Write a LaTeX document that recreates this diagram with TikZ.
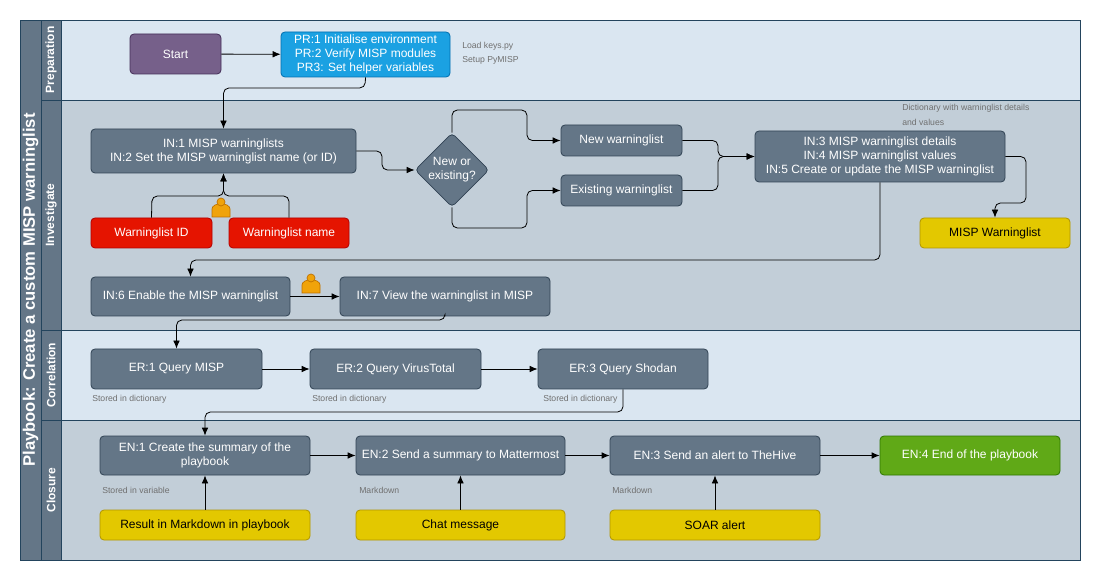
\documentclass[tikz,border=0pt]{standalone}
\usepackage{fontspec}
\setmainfont{Liberation Sans}
\usetikzlibrary{arrows.meta,shapes.geometric}
\definecolor{nodeg}{HTML}{647687}
\definecolor{nodegs}{HTML}{314354}
\definecolor{laneb}{HTML}{DAE6F1}
\definecolor{laneg}{HTML}{C2CED8}
\definecolor{lanebd}{HTML}{23445D}
\definecolor{hdr}{HTML}{647687}
\definecolor{redf}{HTML}{E51400}
\definecolor{reds}{HTML}{B20000}
\definecolor{yelf}{HTML}{E3C800}
\definecolor{yels}{HTML}{B09500}
\definecolor{grnf}{HTML}{60A917}
\definecolor{grns}{HTML}{2D7600}
\definecolor{purf}{HTML}{76608A}
\definecolor{purs}{HTML}{432D57}
\definecolor{bluf}{HTML}{1BA1E2}
\definecolor{blus}{HTML}{006EAF}
\definecolor{notec}{HTML}{707070}
\definecolor{persf}{HTML}{F0A30A}
\definecolor{perss}{HTML}{BD7000}
\newcommand\mybox[7]{\node[#2, minimum width={(#5-#3)*0.75pt}, minimum height={(#6-#4)*0.75pt}] (#1) at ({(#3+#5)/2},{(#4+#6)/2}) {#7};}
\newcommand\myperson[3]{%
  \fill[persf,draw=perss,line width=0.5pt] ({#2-9},{#3+10}) -- ({#2-9},{#3+2}) arc[start angle=180,end angle=0,x radius=6.75pt,y radius=4pt] -- ({#2+9},{#3+10}) -- cycle;
  \node[circle,fill=persf,draw=perss,line width=0.5pt,minimum size=6pt,inner sep=0] (#1) at (#2,{#3-5}) {};}
\begin{document}
\begin{tikzpicture}[x=0.75pt,y=-0.75pt,
  box/.style={rectangle,rounded corners=3pt,draw=nodegs,fill=nodeg,text=white,align=center,inner sep=1pt,font=\fontsize{9}{10.5}\selectfont,line width=0.6pt},
  red/.style={box,fill=redf,draw=reds},
  yel/.style={box,fill=yelf,draw=yels,text=black},
  grn/.style={box,fill=grnf,draw=grns},
  pur/.style={box,fill=purf,draw=purs},
  blu/.style={box,fill=bluf,draw=blus},
  note/.style={text=notec,font=\fontsize{6.5}{10.5}\selectfont,anchor=west,inner sep=0},
  conn/.style={-{Latex[length=6pt,width=5pt]},line width=0.6pt,rounded corners=4pt},
  lanelbl/.style={text=white,font=\bfseries\fontsize{9}{10}\selectfont,rotate=90}]
\useasboundingbox (0,0) rectangle (1101,581);
\fill[white] (0,0) rectangle (1101,581);
% lanes
\filldraw[fill=laneb,draw=lanebd] (61,20) rectangle (1080,100);
\filldraw[fill=laneg,draw=lanebd] (61,100) rectangle (1080,330);
\filldraw[fill=laneb,draw=lanebd] (61,330) rectangle (1080,420);
\filldraw[fill=laneg,draw=lanebd] (61,420) rectangle (1080,560);
\filldraw[fill=hdr,draw=lanebd] (20,20) rectangle (41,560);
\filldraw[fill=hdr,draw=lanebd] (41,20) rectangle (61,100);
\filldraw[fill=hdr,draw=lanebd] (41,100) rectangle (61,330);
\filldraw[fill=hdr,draw=lanebd] (41,330) rectangle (61,420);
\filldraw[fill=hdr,draw=lanebd] (41,420) rectangle (61,560);
\draw[lanebd] (20,20) rectangle (1080,560);
\node[text=white,font=\bfseries\fontsize{12.5}{14}\selectfont,rotate=90] (title) at (30.5,290) {Playbook: Create a custom MISP warninglist};
\node[lanelbl] (lp) at (51,60) {Preparation};
\node[lanelbl] (li) at (51,215) {Investigate};
\node[lanelbl] (lc) at (51,375) {Correlation};
\node[lanelbl] (lcl) at (51,490) {Closure};
% nodes
\mybox{start}{pur}{130}{34}{221}{74}{Start}
\mybox{PR}{blu}{281}{32}{450}{77}{PR:1 Initialise environment\\PR:2 Verify MISP modules\\PR3: Set helper variables}
\node[note] (n1) at (462,46) {Load keys.py};
\node[note] (n2) at (462,60) {Setup PyMISP};
\mybox{IN1}{box}{91}{129}{356}{173}{IN:1 MISP warninglists\\IN:2 Set the MISP warninglist name (or ID)}
\node[diamond,draw=nodegs,fill=nodeg,text=white,align=center,inner sep=0,minimum width=55.5pt,minimum height=55.5pt,rounded corners=3pt,font=\fontsize{9}{10.5}\selectfont,line width=0.6pt] (dia) at (452,170) {New or\\existing?};
\mybox{New}{box}{561}{125}{682}{156}{New warninglist}
\mybox{Ex}{box}{561}{175}{682}{206}{Existing warninglist}
\mybox{IN3}{box}{755}{131}{1005}{182}{IN:3 MISP warninglist details\\IN:4 MISP warninglist values\\IN:5 Create or update the MISP warninglist}
\node[note] (n3) at (902,108) {Dictionary with warninglist details};
\node[note] (n4) at (902,122) {and values};
\mybox{MW}{yel}{920}{218}{1070}{248}{MISP Warninglist}
\mybox{ID}{red}{91}{218}{212}{248}{Warninglist ID}
\mybox{NM}{red}{229}{218}{349}{248}{Warninglist name}
\mybox{IN6}{box}{91}{277}{290}{316}{IN:6 Enable the MISP warninglist}
\mybox{IN7}{box}{340}{277}{550}{316}{IN:7 View the warninglist in MISP}
\mybox{ER1}{box}{91}{349}{262}{389}{ER:1 Query MISP}
\mybox{ER2}{box}{310}{349}{481}{389}{ER:2 Query VirusTotal}
\mybox{ER3}{box}{538}{349}{708}{389}{ER:3 Query Shodan}
\node[note] (s1) at (92,399) {Stored in dictionary};
\node[note] (s2) at (312,399) {Stored in dictionary};
\node[note] (s3) at (543,399) {Stored in dictionary};
\mybox{EN1}{box}{100}{436}{310}{475}{EN:1 Create the summary of the\\playbook}
\mybox{EN2}{box}{356}{436}{565}{475}{EN:2 Send a summary to Mattermost}
\mybox{EN3}{box}{610}{436}{820}{475}{EN:3 Send an alert to TheHive}
\mybox{EN4}{grn}{880}{436}{1060}{475}{EN:4 End of the playbook}
\node[note] (m1) at (102,490) {Stored in variable};
\node[note] (m2) at (359,490) {Markdown};
\node[note] (m3) at (612,490) {Markdown};
\mybox{Y1}{yel}{100}{510}{310}{540}{Result in Markdown in playbook}
\mybox{Y2}{yel}{356}{510}{565}{540}{Chat message}
\mybox{Y3}{yel}{610}{510}{820}{540}{SOAR alert}
\myperson{p1}{221}{207}
\myperson{p2}{311}{283}
% connectors
\draw[conn] (start) -- (PR);
\draw[conn] (PR.south) -- (365,88) -| (IN1.north);
\draw[conn] (ID.north) -- (152,196) -| (IN1.south);
\draw[conn] (NM.north) -- (289,196) -| (IN1.south);
\draw[conn] (IN1.east) -| (382,170) -- (dia.west);
\draw[conn] (dia.north) |- (527,110) |- (New.west);
\draw[conn] (dia.south) |- (527,228) |- (Ex.west);
\draw[conn] (New.east) -| (718,156.5) -- (IN3.west);
\draw[conn] (Ex.east) -| (718,156.5) -- (IN3.west);
\draw[conn] (IN3.east) -| (1026,203) -| (MW.north);
\draw[conn] (IN3.south) |- (190.5,260) -- (IN6.north);
\draw[conn] (IN6) -- (IN7);
\draw[conn] (IN7.south) |- (176.5,320) -- (ER1.north);
\draw[conn] (ER1) -- (ER2);
\draw[conn] (ER2) -- (ER3);
\draw[conn] (ER3.south) |- (205,412) -- (EN1.north);
\draw[conn] (EN1) -- (EN2);
\draw[conn] (EN2) -- (EN3);
\draw[conn] (EN3) -- (EN4);
\draw[conn] (Y1) -- (EN1);
\draw[conn] (Y2) -- (EN2);
\draw[conn] (Y3) -- (EN3);
\end{tikzpicture}
\end{document}
